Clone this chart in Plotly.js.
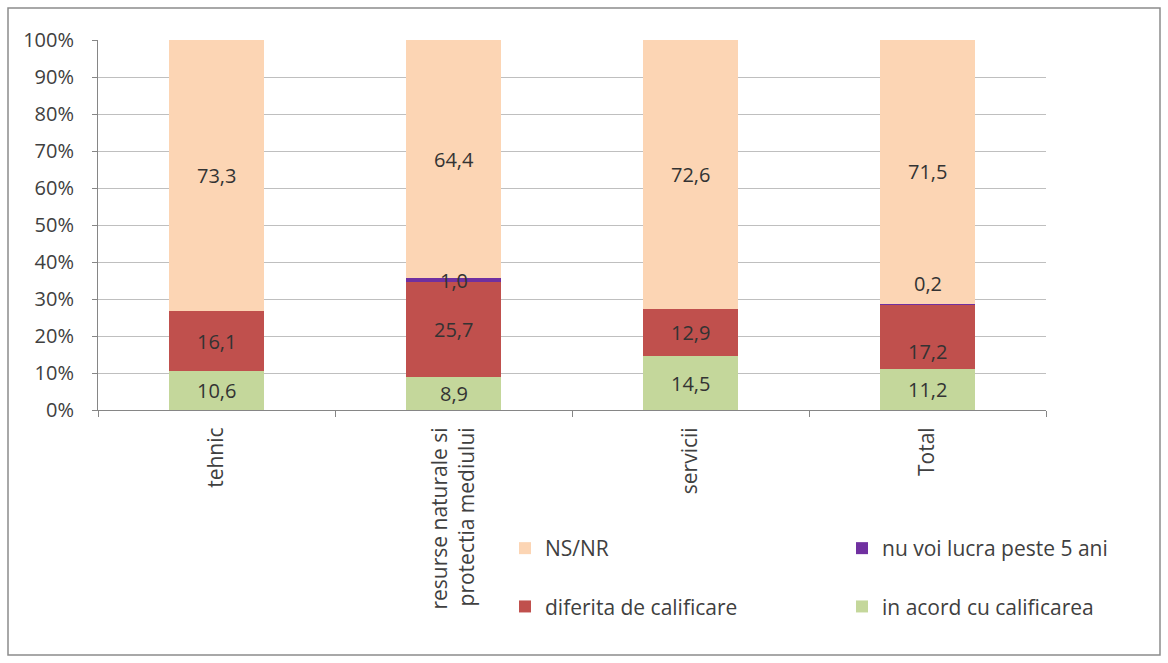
<!DOCTYPE html>
<html>
<head>
<meta charset="utf-8">
<script src="https://cdn.plot.ly/plotly-3.0.1.min.js"></script>
<style>html,body{margin:0;padding:0;background:#fff;}#chart{width:1168px;height:663px;}</style>
</head>
<body>
<div id="chart"></div>
<script>
const categories = ['tehnic', 'resurse naturale si<br>protectia mediului', 'servicii', 'Total'];
const acord = [10.6, 8.9, 14.5, 11.2];
const diferita = [16.1, 25.7, 12.9, 17.2];
const nuVoi = [0, 1.0, 0, 0.2];
const nsnr = [73.3, 64.4, 72.6, 71.5];
const seriesNames = ['in acord cu calificarea', 'diferita de calificare', 'nu voi lucra peste 5 ani', 'NS/NR'];
const yTicks = [0, 10, 20, 30, 40, 50, 60, 70, 80, 90, 100];

const colors = ['#C4D79B', '#C0504D', '#7030A0', '#FCD5B4'];
const legends = ['legend2', 'legend', 'legend2', 'legend'];
const ranks = [2, 2, 1, 1];
const series = [acord, diferita, nuVoi, nsnr];
const FONT = 'Open Sans, DejaVu Sans, sans-serif';
const FS = 20;
const FS_CAT = 21;

const traces = series.map((vals, i) => ({
  type: 'bar',
  name: seriesNames[i],
  x: categories,
  y: vals,
  marker: {color: colors[i], line: {width: 0}},
  legend: legends[i],
  legendgroup: 'g' + i,
  legendrank: ranks[i],
  hoverinfo: 'none'
}));

// label placement tweaks (pixel shifts), mimic the original's label positions
const shifts = {'3|2': 21, '3|1': -15};
const annotations = [];
categories.forEach((c, ci) => {
  let base = 0;
  series.forEach((vals, si) => {
    const v = vals[ci];
    if (v > 0) {
      annotations.push({
        x: c, y: base + v / 2, xref: 'x', yref: 'y',
        text: v.toFixed(1).replace('.', ','),
        showarrow: false,
        yshift: shifts[ci + '|' + si] || 0,
        font: {family: FONT, size: FS, color: '#333333'}
      });
    }
    base += v;
  });
});

const L = 98, T = 40, W = 948, H = 370;
const px = p => (p - L) / W;
const py = p => (T + H - p) / H;

const legendCommon = {
  xanchor: 'left', yanchor: 'top',
  orientation: 'v', traceorder: 'grouped', tracegroupgap: 28,
  font: {family: FONT, size: FS_CAT, color: '#404040'},
  bgcolor: 'rgba(0,0,0,0)', itemclick: false, itemdoubleclick: false
};

const layout = {
  width: 1168, height: 663,
  margin: {l: L, r: 1168 - L - W, t: T, b: 663 - T - H},
  paper_bgcolor: '#ffffff', plot_bgcolor: '#ffffff',
  barmode: 'stack',
  bargap: 0.6,
  showlegend: true,
  font: {family: FONT, size: FS, color: '#404040'},
  xaxis: {
    type: 'category',
    range: [-0.5, 3.5],
    tickangle: -90,
    ticks: 'outside', tickson: 'boundaries', ticklen: 6, tickcolor: '#868686',
    showline: true, linecolor: '#868686', linewidth: 1,
    showgrid: false, zeroline: false,
    ticklabelstandoff: 8,
    tickfont: {family: FONT, size: FS_CAT, color: '#404040'},
    fixedrange: true
  },
  yaxis: {
    range: [0, 100],
    tickvals: yTicks,
    ticktext: yTicks.map(v => v + '%'),
    ticks: 'outside', ticklen: 5, tickcolor: '#868686',
    showline: true, linecolor: '#868686', linewidth: 1,
    showgrid: true, gridcolor: '#BFBFBF', gridwidth: 1,
    zeroline: false,
    ticklabelstandoff: 14,
    tickfont: {family: FONT, size: FS, color: '#404040'},
    fixedrange: true
  },
  legend: Object.assign({x: px(505), y: py(528)}, legendCommon),
  legend2: Object.assign({x: px(842), y: py(528)}, legendCommon),
  annotations: annotations,
  shapes: [{
    type: 'rect', xref: 'paper', yref: 'paper',
    x0: px(8), x1: px(1160), y0: py(655), y1: py(8),
    line: {color: '#8c8c8c', width: 1.5}, fillcolor: 'rgba(0,0,0,0)', layer: 'below'
  }]
};

Plotly.newPlot('chart', traces, layout, {displayModeBar: false, staticPlot: true});
</script>
</body>
</html>
